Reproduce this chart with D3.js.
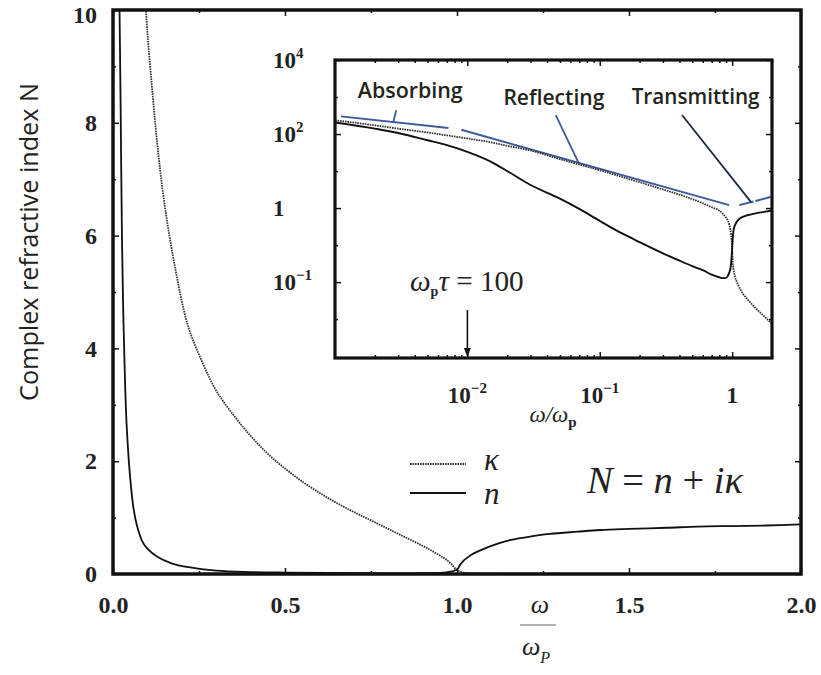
<!DOCTYPE html>
<html><head><meta charset="utf-8">
<script src="https://cdn.jsdelivr.net/npm/d3@7"></script>
<style>body{margin:0;background:#fff}svg{display:block}</style>
</head><body>
<svg id="c" width="821" height="675"></svg>
<script>
// ---------- DATA ----------
// main panel: n (solid)
const mainNx = [0.019,0.022,0.026,0.03,0.035,0.04,0.05,0.06,0.07,0.085,0.1,0.13,0.17,0.22,0.3,0.4,0.5,0.7,0.9,0.97,1.0,1.01,1.02,1.03,1.05,1.076,1.1,1.154,1.2,1.27,1.35,1.416,1.5,1.61,1.7,1.8,1.9,2.0];
const mainN  = [10,8.4,6.0,4.6,3.4,2.6,1.7,1.15,0.85,0.58,0.45,0.3,0.19,0.12,0.06,0.035,0.025,0.015,0.015,0.03,0.08,0.17,0.24,0.29,0.37,0.44,0.5,0.6,0.65,0.71,0.75,0.78,0.8,0.82,0.84,0.85,0.86,0.88];
// main panel: kappa (dotted)
const mainKx = [0.09,0.1,0.116,0.13,0.15,0.18,0.218,0.26,0.3,0.35,0.4,0.45,0.5,0.55,0.6,0.65,0.7,0.75,0.8,0.85,0.9,0.93,0.96,0.98,1.0,1.02,1.05,1.1,1.3,1.5,2.0];
const mainK  = [10.6,9.6,8.45,7.55,6.55,5.45,4.4,3.75,3.25,2.82,2.45,2.13,1.87,1.64,1.44,1.26,1.1,0.95,0.8,0.65,0.5,0.4,0.29,0.2,0.07,0.025,0.015,0.01,0.004,0.002,0.001];
// inset (log-log): omega/omega_p
const insetX = [0.001,0.002,0.003,0.005,0.007,0.01,0.015,0.02,0.03,0.05,0.07,0.1,0.15,0.2,0.3,0.4,0.5,0.6,0.7,0.8,0.85,0.9,0.93,0.95,0.97,0.98,0.99,1.0,1.01,1.02,1.03,1.05,1.08,1.1,1.15,1.2,1.3,1.5,1.7,2.0];
const insetN = [205,140,107,68,50,33,18,10,4.2,1.8,0.95,0.45,0.2,0.12,0.06,0.038,0.027,0.021,0.016,0.0135,0.0128,0.013,0.015,0.018,0.023,0.03,0.045,0.08,0.15,0.22,0.28,0.34,0.42,0.46,0.53,0.58,0.64,0.72,0.78,0.86];
const insetK = [235,172,140,110,92,76,60,48,36,21,15,10.5,6.8,5.0,3.2,2.3,1.75,1.35,1.05,0.85,0.7,0.55,0.45,0.36,0.26,0.2,0.145,0.075,0.035,0.024,0.019,0.014,0.0105,0.009,0.0065,0.005,0.0035,0.002,0.0013,0.00075];
// ticks
const mainXTicks = [0, 0.5, 1.0, 1.5, 2.0];
const mainXMinor = [0.25, 0.75, 1.25, 1.75];
const mainYTicks = [0, 2, 4, 6, 8, 10];
const mainYMinor = [1, 3, 5, 7, 9];
const insetYTicks = [1e4, 1e2, 1, 1e-2];
const insetYLabels = [["10","4"], ["10","2"], ["1",""], ["10","\u22121"]];
const insetYMinor = [1e3, 1e1, 1e-1, 1e-3];
const insetXTicks = [1e-2, 1e-1, 1];
const insetXLabels = [["10","\u22122"], ["10","\u22121"], ["1",""]];
const insetXMinor = [2e-3,3e-3,4e-3,5e-3,6e-3,7e-3,8e-3,9e-3,2e-2,3e-2,4e-2,5e-2,6e-2,7e-2,8e-2,9e-2,0.2,0.3,0.4,0.5,0.6,0.7,0.8,0.9,2];
// annotations (inset data coordinates)
const blueSegments = [
  [[0.00111,300],[0.0072,145]],   // absorbing highlight
  [[0.009,130],[0.95,1.2]],       // reflecting highlight
  [[1.13,1.2],[1.45,1.5]],        // transmitting highlight
  [[1.5,1.55],[1.95,2.0]]
];
const pointers = [
  {from:[0.0029,440], to:[0.00275,200], color:"#3b5a9a"},
  {from:[0.0465,326], to:[0.0693,16.4], color:"#3b5a9a"},
  {from:[0.418,326], to:[1.39,1.45], color:"#1c2840"}
];
const regionLabels = [
  {text:"Absorbing", x:0.0037, cy:91, w:105},
  {text:"Reflecting", x:0.045, cy:98, w:101},
  {text:"Transmitting", x:0.53, cy:97, w:128}
];
const tauX = 0.01;

// ---------- CHART ----------
const svg = d3.select('#c');
const serif = "'Liberation Serif', 'Times New Roman', serif";
const sans = "'Open Sans', 'Noto Sans', sans-serif";

const x = d3.scaleLinear().domain([0, 2]).range([113, 801]);
const y = d3.scaleLinear().domain([0, 10]).range([574, 10]);

const defs = svg.append('defs');
defs.append('clipPath').attr('id','mclip')
  .append('rect').attr('x',113).attr('y',10).attr('width',688).attr('height',564);

const lineMain = d3.line().curve(d3.curveCatmullRom.alpha(0.5));
const gC = svg.append('g').attr('clip-path','url(#mclip)');
gC.append('path')
  .attr('d', lineMain(mainKx.map((v,i)=>[x(v), y(mainK[i])])))
  .attr('fill','none').attr('stroke','#333').attr('stroke-width',1.8)
  .attr('stroke-dasharray','1.6,0.9');
gC.append('path')
  .attr('d', lineMain(mainNx.map((v,i)=>[x(v), y(mainN[i])])))
  .attr('fill','none').attr('stroke','#111').attr('stroke-width',1.8);

function styleAxis(g){
  g.select('.domain').remove();
  g.selectAll('line').attr('stroke','#111').attr('stroke-width',1.5);
}
// main axes
const axB = svg.append('g').attr('transform','translate(0,574)')
  .call(d3.axisBottom(x).tickValues(mainXTicks).tickFormat(d3.format('.1f')).tickSize(-6).tickPadding(22));
styleAxis(axB);
axB.selectAll('text').attr('font-family',serif).attr('font-size',24).attr('font-weight','bold').attr('fill','#222');
svg.append('g').attr('transform','translate(0,574)')
  .call(d3.axisBottom(x).tickValues(mainXMinor).tickFormat('').tickSize(-3)).call(styleAxis);
svg.append('g').attr('transform','translate(0,10)')
  .call(d3.axisTop(x).tickValues(mainXTicks).tickFormat('').tickSize(-6)).call(styleAxis);
svg.append('g').attr('transform','translate(0,10)')
  .call(d3.axisTop(x).tickValues(mainXMinor).tickFormat('').tickSize(-3)).call(styleAxis);

const axL = svg.append('g').attr('transform','translate(113,0)')
  .call(d3.axisLeft(y).tickValues(mainYTicks).tickFormat(d3.format('d')).tickSize(-6).tickPadding(16));
styleAxis(axL);
axL.selectAll('text').attr('font-family',serif).attr('font-size',24).attr('font-weight','bold').attr('fill','#222');
axL.selectAll('.tick').filter(d => d === 10).select('text').attr('dy','0.5em');
svg.append('g').attr('transform','translate(113,0)')
  .call(d3.axisLeft(y).tickValues(mainYMinor).tickFormat('').tickSize(-3)).call(styleAxis);
svg.append('g').attr('transform','translate(801,0)')
  .call(d3.axisRight(y).tickValues(mainYTicks).tickFormat('').tickSize(-6)).call(styleAxis);
svg.append('g').attr('transform','translate(801,0)')
  .call(d3.axisRight(y).tickValues(mainYMinor).tickFormat('').tickSize(-3)).call(styleAxis);

svg.append('rect').attr('x',113).attr('y',10).attr('width',688).attr('height',564)
  .attr('fill','none').attr('stroke','#111').attr('stroke-width',3.5);

// y title
const yt = svg.append('text').attr('transform','translate(38,242) rotate(-90)')
  .attr('text-anchor','middle').attr('font-family',sans).attr('font-size',22).attr('fill','#222')
  .text('Complex refractive index N');
(function fit(t, w){ const l = t.node().getComputedTextLength(); if (l > 0) t.attr('font-size', 22*w/l); })(yt, 318);

// x title omega / omega_p
const xt = svg.append('g');
xt.append('text').attr('x',540).attr('y',613).attr('text-anchor','middle')
  .attr('font-family',serif).attr('font-style','italic').attr('font-size',26).attr('fill','#222').text('\u03C9');
xt.append('line').attr('x1',520).attr('x2',556).attr('y1',625).attr('y2',625).attr('stroke','#999').attr('stroke-width',1.6);
const xb = xt.append('text').attr('x',522).attr('y',655)
  .attr('font-family',serif).attr('font-style','italic').attr('font-size',26).attr('fill','#222');
xb.append('tspan').text('\u03C9');
xb.append('tspan').attr('dy',8).attr('font-size',16).text('P');

// legend
const lg = svg.append('g');
lg.append('line').attr('x1',410).attr('x2',466).attr('y1',464).attr('y2',464)
  .attr('stroke','#333').attr('stroke-width',1.9).attr('stroke-dasharray','1.6,0.9');
lg.append('line').attr('x1',410).attr('x2',466).attr('y1',493).attr('y2',493)
  .attr('stroke','#111').attr('stroke-width',1.9);
lg.append('text').attr('x',484).attr('y',470).attr('font-family',serif).attr('font-style','italic')
  .attr('font-size',31).attr('fill','#222').text('\u03BA');
lg.append('text').attr('x',484).attr('y',504).attr('font-family',serif).attr('font-style','italic')
  .attr('font-size',31).attr('fill','#222').text('n');
const eq = lg.append('text').attr('x',587).attr('y',493).attr('font-family',serif)
  .attr('font-size',35).attr('fill','#222');
eq.append('tspan').attr('font-style','italic').text('N');
eq.append('tspan').text(' = ');
eq.append('tspan').attr('font-style','italic').text('n');
eq.append('tspan').text(' + ');
eq.append('tspan').attr('font-style','italic').text('i\u03BA');
(function(){ const l = eq.node().getComputedTextLength(); if (l > 0) eq.attr('font-size', 35*156/l); })();

// ---------- INSET ----------
const xi = d3.scaleLog().domain([1e-3, 2]).range([335, 772]);
const yi = d3.scaleLog().domain([Math.pow(10,-4.05), 1e4]).range([358, 60]);
svg.append('rect').attr('x',335).attr('y',60).attr('width',437).attr('height',298).attr('fill','#fff');
defs.append('clipPath').attr('id','iclip')
  .append('rect').attr('x',335).attr('y',60).attr('width',437).attr('height',298);
const gi = svg.append('g').attr('clip-path','url(#iclip)');
const lineI = d3.line().curve(d3.curveMonotoneX);

// blue highlight segments
blueSegments.forEach(s => {
  gi.append('line').attr('x1',xi(s[0][0])).attr('y1',yi(s[0][1])).attr('x2',xi(s[1][0])).attr('y2',yi(s[1][1]))
    .attr('stroke','#3b5a9a').attr('stroke-width',2);
});
gi.append('path').attr('d', lineI(insetX.map((v,i)=>[xi(v), yi(insetK[i])])))
  .attr('fill','none').attr('stroke','#333').attr('stroke-width',1.8).attr('stroke-dasharray','1.6,0.9');
gi.append('path').attr('d', lineI(insetX.map((v,i)=>[xi(v), yi(insetN[i])])))
  .attr('fill','none').attr('stroke','#111').attr('stroke-width',1.9);
pointers.forEach(p => {
  svg.append('line').attr('x1',xi(p.from[0])).attr('y1',yi(p.from[1])).attr('x2',xi(p.to[0])).attr('y2',yi(p.to[1]))
    .attr('stroke',p.color).attr('stroke-width',1.8);
});
regionLabels.forEach(r => {
  const t = svg.append('text').attr('x',xi(r.x)).attr('y',r.cy+7).attr('text-anchor','middle')
    .attr('font-family',sans).attr('font-weight',600).attr('font-size',19).attr('fill','#23241a').text(r.text);
  const l = t.node().getComputedTextLength(); if (l > 0) t.attr('font-size', 19*r.w/l);
});

// inset axes
svg.append('g').attr('transform','translate(335,0)')
  .call(d3.axisLeft(yi).tickValues(insetYTicks).tickFormat('').tickSize(-6)).call(styleAxis);
svg.append('g').attr('transform','translate(335,0)')
  .call(d3.axisLeft(yi).tickValues(insetYMinor).tickFormat('').tickSize(-3)).call(styleAxis);
svg.append('g').attr('transform','translate(772,0)')
  .call(d3.axisRight(yi).tickValues(insetYTicks).tickFormat('').tickSize(-6)).call(styleAxis);
svg.append('g').attr('transform','translate(772,0)')
  .call(d3.axisRight(yi).tickValues(insetYMinor).tickFormat('').tickSize(-3)).call(styleAxis);
svg.append('g').attr('transform','translate(0,358)')
  .call(d3.axisBottom(xi).tickValues(insetXTicks).tickFormat('').tickSize(-6)).call(styleAxis);
svg.append('g').attr('transform','translate(0,358)')
  .call(d3.axisBottom(xi).tickValues(insetXMinor).tickFormat('').tickSize(-3)).call(styleAxis);
svg.append('g').attr('transform','translate(0,60)')
  .call(d3.axisTop(xi).tickValues(insetXTicks).tickFormat('').tickSize(-6)).call(styleAxis);
svg.append('g').attr('transform','translate(0,60)')
  .call(d3.axisTop(xi).tickValues(insetXMinor).tickFormat('').tickSize(-3)).call(styleAxis);
svg.append('rect').attr('x',335).attr('y',60).attr('width',437).attr('height',298)
  .attr('fill','none').attr('stroke','#111').attr('stroke-width',3.2);

// inset tick labels
insetYTicks.forEach((v,i) => {
  const t = svg.append('text').attr('x',273).attr('y',yi(v)+8).attr('font-family',serif)
    .attr('font-weight','bold').attr('font-size',23).attr('fill','#222');
  t.append('tspan').text(insetYLabels[i][0]);
  if (insetYLabels[i][1]) t.append('tspan').attr('dy',-10).attr('font-size',15).text(insetYLabels[i][1]);
});
insetXTicks.forEach((v,i) => {
  const t = svg.append('text').attr('x',xi(v)).attr('y',403).attr('text-anchor','middle').attr('font-family',serif)
    .attr('font-weight','bold').attr('font-size',23).attr('fill','#222');
  t.append('tspan').text(insetXLabels[i][0]);
  if (insetXLabels[i][1]) t.append('tspan').attr('dy',-10).attr('font-size',15).text(insetXLabels[i][1]);
});
const ixl = svg.append('text').attr('x',553).attr('y',422).attr('text-anchor','middle')
  .attr('font-family',serif).attr('font-size',23).attr('fill','#222');
ixl.append('tspan').attr('font-style','italic').text('\u03C9/\u03C9');
ixl.append('tspan').attr('dy',5).attr('font-size',15).attr('font-weight','bold').text('p');

// omega_p tau = 100 + arrow
const tl = svg.append('text').attr('x',410).attr('y',291).attr('font-family',serif)
  .attr('font-size',25).attr('fill','#222');
tl.append('tspan').attr('font-style','italic').text('\u03C9');
tl.append('tspan').attr('dy',5).attr('font-size',14).attr('font-weight','bold').text('p');
tl.append('tspan').attr('dy',-5).attr('font-style','italic').text('\u03C4');
tl.append('tspan').text(' = 100');
(function(){ const l = tl.node().getComputedTextLength(); if (l > 0) tl.attr('font-size', 25*115/l); })();
const ax0 = xi(tauX);
svg.append('line').attr('x1',ax0).attr('x2',ax0).attr('y1',310).attr('y2',350).attr('stroke','#111').attr('stroke-width',1.6);
svg.append('path').attr('d',`M${ax0-3.5},${348}L${ax0+3.5},${348}L${ax0},${357}Z`).attr('fill','#111');
</script>
</body></html>
